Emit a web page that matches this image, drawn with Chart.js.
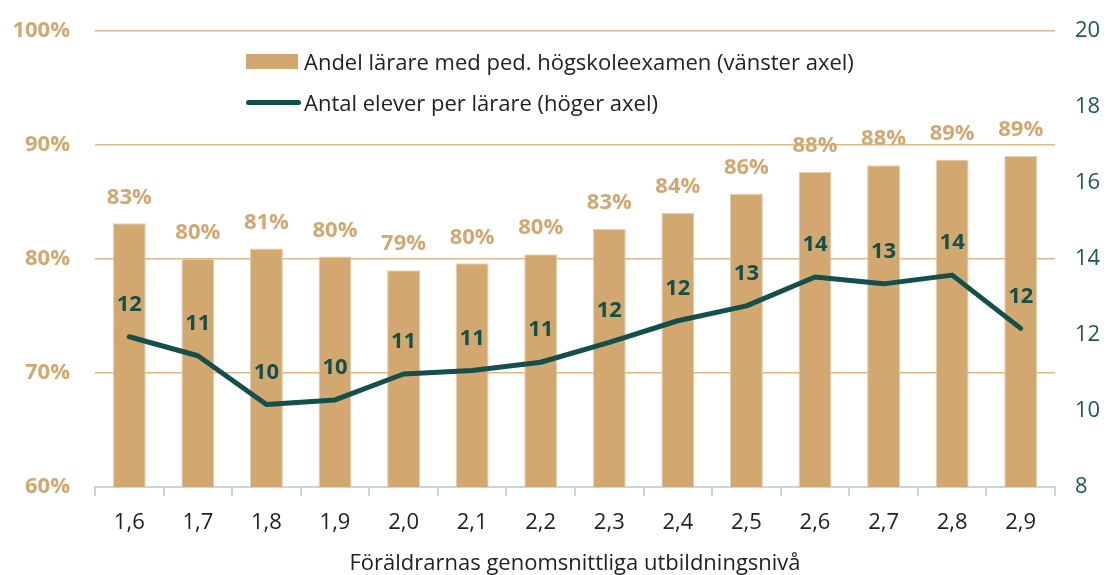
<!DOCTYPE html>
<html>
<head>
<meta charset="utf-8">
<script src="https://cdn.jsdelivr.net/npm/chart.js@4.4.1/dist/chart.umd.min.js"></script>
<style>
  html, body { margin: 0; padding: 0; background: #fff; }
  #wrap { position: relative; width: 1110px; height: 575px; }
  #legend { position: absolute; left: 246px; top: 43px; font-family: "Open Sans", sans-serif; font-size: 22px; color: #222; }
  .item { display: flex; align-items: center; height: 36px; margin-bottom: 5px; }
  .box { width: 52px; height: 15px; background: #D3A870; margin-right: 6px; }
  .ln { width: 55px; height: 5px; border-radius: 3px; background: #134F4B; margin-right: 3px; }
</style>
</head>
<body>
<div id="wrap">
  <canvas id="chart" width="1110" height="575"></canvas>
  <div id="legend">
    <div class="item"><span class="box"></span>Andel lärare med ped. högskoleexamen (vänster axel)</div>
    <div class="item"><span class="ln"></span>Antal elever per lärare (höger axel)</div>
  </div>
</div>
<script>
const categories = ["1,6", "1,7", "1,8", "1,9", "2,0", "2,1", "2,2", "2,3", "2,4", "2,5", "2,6", "2,7", "2,8", "2,9"];
const teacherShare = [83.1, 80.0, 80.9, 80.2, 79.0, 79.6, 80.4, 82.6, 84.0, 85.7, 87.6, 88.2, 88.7, 89.0];
const pupilsPerTeacher = [11.95, 11.45, 10.17, 10.29, 10.97, 11.06, 11.28, 11.8, 12.37, 12.76, 13.52, 13.34, 13.57, 12.17];
const leftTicks = [60, 70, 80, 90, 100];
const rightTicks = [8, 10, 12, 14, 16, 18, 20];

const tan = '#D3A870';
const teal = '#134F4B';
const fontFamily = '"Open Sans", sans-serif';

// draws the value labels above bars and line points
const valueLabels = {
    id: 'valueLabels',
    afterDatasetsDraw(chart) {
        const ctx = chart.ctx;
        ctx.save();
        ctx.textAlign = 'center';
        ctx.textBaseline = 'middle';
        ctx.font = 'bold 22px ' + fontFamily;

        const bars = chart.getDatasetMeta(1).data;
        ctx.fillStyle = tan;
        bars.forEach((bar, i) => {
            ctx.fillText(Math.round(teacherShare[i]) + '%', bar.x, bar.y - 26);
        });

        const points = chart.getDatasetMeta(0).data;
        ctx.fillStyle = teal;
        points.forEach((pt, i) => {
            ctx.fillText(Math.round(pupilsPerTeacher[i]), pt.x, pt.y - 32);
        });
        ctx.restore();
    }
};

const ctx = document.getElementById('chart').getContext('2d');
const chart = new Chart(ctx, {
    type: 'bar',
    data: {
        labels: categories,
        datasets: [{
            type: 'line',
            label: 'Antal elever per lärare (höger axel)',
            data: pupilsPerTeacher,
            yAxisID: 'y1',
            borderColor: teal,
            borderWidth: 5,
            pointRadius: 0,
            tension: 0,
            borderJoinStyle: 'round',
            borderCapStyle: 'round',
            order: 0
        }, {
            label: 'Andel lärare med ped. högskoleexamen (vänster axel)',
            data: teacherShare,
            yAxisID: 'y',
            backgroundColor: tan,
            borderColor: '#E6CFAE',
            borderWidth: 1,
            barPercentage: 0.48,
            categoryPercentage: 1,
            order: 1
        }]
    },
    options: {
        responsive: false,
        animation: false,
        layout: { padding: { top: 28, bottom: 0, left: 0, right: 0 } },
        plugins: {
            legend: { display: false },
            tooltip: { enabled: false }
        },
        scales: {
            x: {
                offset: true,
                afterFit(s) { s.height = 88; },
                grid: {
                    offset: true,
                    drawOnChartArea: false,
                    drawTicks: true,
                    tickLength: 9,
                    color: '#C9D6D6',
                    lineWidth: 2
                },
                border: { color: '#C9D6D6', width: 2 },
                ticks: {
                    color: '#222',
                    font: { family: fontFamily, size: 22 },
                    padding: 14,
                    maxRotation: 0
                },
                title: {
                    display: true,
                    text: 'Föräldrarnas genomsnittliga utbildningsnivå',
                    color: '#222',
                    font: { family: fontFamily, size: 22, lineHeight: 1.05 },
                    padding: { top: 4, bottom: 0 }
                }
            },
            y: {
                position: 'left',
                min: 60,
                max: 100,
                afterFit(s) { s.width = 95; },
                afterBuildTicks(s) { s.ticks = leftTicks.map(v => ({ value: v })); },
                grid: {
                    color: ctx => ctx.tick && ctx.tick.value === 60 ? 'rgba(0,0,0,0)' : '#DDB888',
                    lineWidth: 1.5,
                    drawTicks: false
                },
                border: { display: false },
                ticks: {
                    color: tan,
                    font: { family: fontFamily, size: 22, weight: 'bold', lineHeight: 0.5 },
                    padding: 25,
                    callback: v => v + '%'
                }
            },
            y1: {
                position: 'right',
                min: 8,
                max: 20,
                afterFit(s) { s.width = 55; },
                afterBuildTicks(s) { s.ticks = rightTicks.map(v => ({ value: v })); },
                grid: { drawOnChartArea: false, drawTicks: false },
                border: { display: false },
                ticks: {
                    color: '#1B5A55',
                    font: { family: fontFamily, size: 22, lineHeight: 0.5 },
                    padding: 20
                }
            }
        }
    },
    plugins: [valueLabels]
});
</script>
</body>
</html>
